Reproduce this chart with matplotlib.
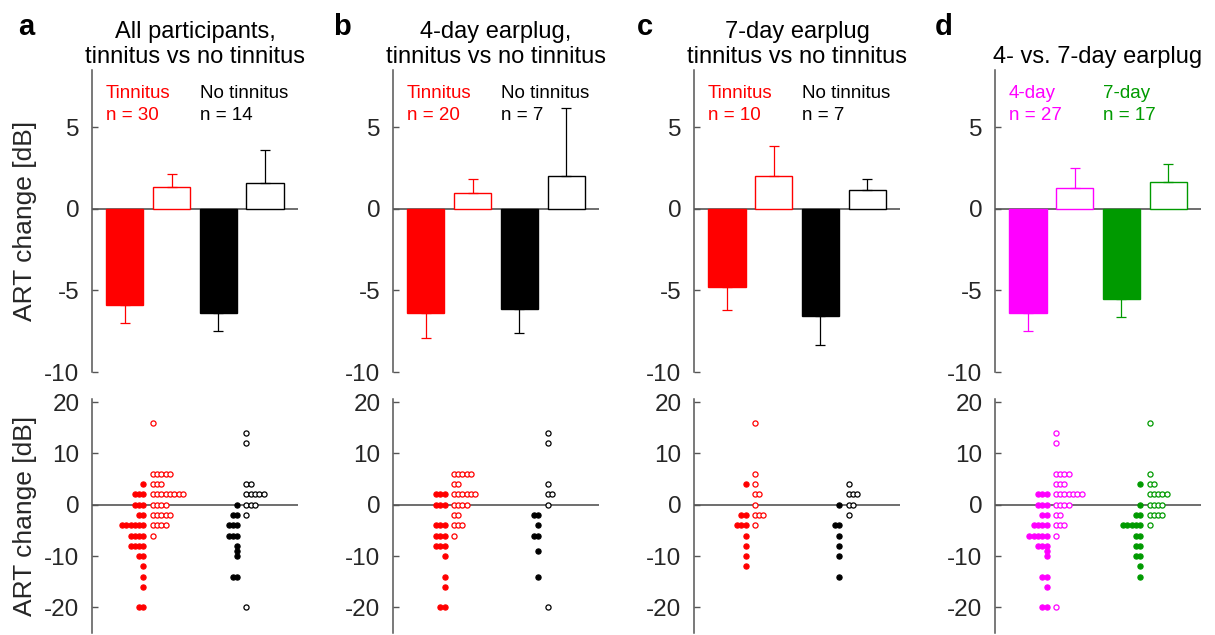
"""ART change after earplug: group bars (top) and individual values (bottom)."""

import matplotlib.pyplot as plt
import numpy as np

plt.rcParams["font.family"] = ["Liberation Sans", "DejaVu Sans"]
plt.rcParams["axes.unicode_minus"] = False

RED = "#ff0000"
BLACK = "#000000"
MAGENTA = "#ff00ff"
GREEN = "#009a00"

LETTERS = ["a", "b", "c", "d"]
TITLES = [
    "All participants,\ntinnitus vs no tinnitus",
    "4-day earplug,\ntinnitus vs no tinnitus",
    "7-day earplug\ntinnitus vs no tinnitus",
    "4- vs. 7-day earplug",
]
GROUP_NAMES = [
    ("Tinnitus", "No tinnitus"),
    ("Tinnitus", "No tinnitus"),
    ("Tinnitus", "No tinnitus"),
    ("4-day", "7-day"),
]
GROUP_N = [(30, 14), (20, 7), (10, 7), (27, 17)]
GROUP_COLORS = [(RED, BLACK), (RED, BLACK), (RED, BLACK), (MAGENTA, GREEN)]

# bar order per panel: group1 filled, group1 open, group2 filled, group2 open
BAR_MEAN = [
    [-5.9, 1.33, -6.36, 1.6],
    [-6.4, 0.98, -6.13, 2.0],
    [-4.8, 2.0, -6.56, 1.16],
    [-6.38, 1.29, -5.52, 1.66],
]
BAR_SEM = [
    [1.08, 0.82, 1.12, 2.0],
    [1.5, 0.86, 1.47, 4.2],
    [1.4, 1.87, 1.78, 0.68],
    [1.12, 1.21, 1.11, 1.1],
]

# individual values (dB)
A_G1_FILLED = [4, 2, 2, 2, 0, 0, 0, -2, -2, -4, -4, -4, -4, -4, -4, -6, -6, -6, -6,
               -8, -8, -8, -8, -10, -10, -12, -14, -16, -20, -20]
A_G1_OPEN = [16, 6, 6, 6, 6, 6, 4, 4, 4, 2, 2, 2, 2, 2, 2, 2, 2, 0, 0, 0, 0,
             -2, -2, -2, -2, -2, -4, -4, -4, -4, -6]
A_G2_FILLED = [0, -2, -2, -4, -4, -4, -6, -6, -6, -8, -9, -10, -14, -14]
A_G2_OPEN = [14, 12, 4, 4, 2, 2, 2, 2, 2, 0, 0, 0, -2, -20]

B_G1_FILLED = [2, 2, 2, 0, 0, 0, -4, -4, -4, -6, -6, -6, -8, -8, -8, -10, -14, -16,
               -20, -20]
B_G1_OPEN = [6, 6, 6, 6, 6, 4, 4, 2, 2, 2, 2, 2, 2, 0, 0, 0, 0, -2, -2, -4, -4, -4, -6]
B_G2_FILLED = [-2, -2, -4, -6, -6, -9, -14]
B_G2_OPEN = [14, 12, 4, 2, 2, 0, -20]

C_G1_FILLED = [4, -2, -2, -4, -4, -4, -6, -8, -10, -12]
C_G1_OPEN = [16, 6, 4, 2, 2, 0, -2, -2, -2, -4]
C_G2_FILLED = [0, -4, -4, -6, -8, -10, -14]
C_G2_OPEN = [4, 2, 2, 2, 0, 0, -2]

D_G1_FILLED = [2, 2, 2, 0, 0, 0, -2, -2, -4, -4, -4, -4, -6, -6, -6, -6, -6,
               -8, -8, -8, -9, -10, -14, -14, -16, -20, -20]
D_G1_OPEN = [14, 12, 6, 6, 6, 6, 4, 4, 4, 2, 2, 2, 2, 2, 2, 2, 0, 0, 0, 0,
             -2, -2, -4, -4, -4, -6, -20]
D_G2_FILLED = [4, 0, -2, -2, -4, -4, -4, -4, -4, -6, -6, -8, -8, -10, -10, -12, -14]
D_G2_OPEN = [16, 6, 4, 4, 2, 2, 2, 2, 2, 0, 0, 0, 0, -2, -2, -2, -2, -4]

DOTS = [
    (A_G1_FILLED, A_G1_OPEN, A_G2_FILLED, A_G2_OPEN),
    (B_G1_FILLED, B_G1_OPEN, B_G2_FILLED, B_G2_OPEN),
    (C_G1_FILLED, C_G1_OPEN, C_G2_FILLED, C_G2_OPEN),
    (D_G1_FILLED, D_G1_OPEN, D_G2_FILLED, D_G2_OPEN),
]

W, H = 1215, 635
AX_GRAY = "#555555"
TXT = "#262626"


def style(ax, ylim, ticks):
    ax.set_xlim(0.3, 4.7)
    ax.set_ylim(*ylim)
    ax.set_yticks(ticks)
    ax.set_xticks([])
    for side in ("top", "right", "bottom"):
        ax.spines[side].set_visible(False)
    ax.spines["left"].set_color(AX_GRAY)
    ax.spines["left"].set_linewidth(1.1)
    ax.tick_params(axis="y", direction="in", length=4, width=1, color=AX_GRAY,
                   labelsize=17.5, labelcolor=TXT, pad=9)
    ax.axhline(0, color=AX_GRAY, lw=1.2, zorder=1)


def swarm(ax, x0, step, vals, color, filled):
    vals = np.asarray(vals, dtype=float)
    for v in np.unique(vals):
        k = int(np.sum(vals == v))
        xs = x0 + step * np.arange(k)
        ax.plot(xs, np.full(k, v), "o", ms=3.7, mew=0.9, mec=color,
                mfc=color if filled else "white", zorder=3, clip_on=False)


fig = plt.figure(figsize=(W / 100, H / 100), dpi=100)

for i in range(4):
    left = (92 + 301 * i) / W
    ax_top = fig.add_axes([left, 1 - 372 / H, 206 / W, 302 / H])
    ax_bot = fig.add_axes([left, 1 - 633 / H, 206 / W, 234 / H])
    style(ax_top, (-10, 8.5), [-10, -5, 0, 5])
    style(ax_bot, (-25, 20.6), [-20, -10, 0, 10, 20])

    c1, c2 = GROUP_COLORS[i]
    colors = [c1, c1, c2, c2]
    for j in range(4):
        m, s = BAR_MEAN[i][j], BAR_SEM[i][j]
        filled = j % 2 == 0
        ax_top.bar(j + 1, m, width=0.8, color=colors[j] if filled else "white",
                   edgecolor=colors[j], linewidth=1, zorder=2)
        yerr = [[s], [0]] if m < 0 else [[0], [s]]
        ax_top.errorbar(j + 1, m, yerr=yerr, color=colors[j], lw=0.9,
                        capsize=3.5, capthick=0.9, zorder=2)

    for k, (name, n) in enumerate(zip(GROUP_NAMES[i], GROUP_N[i])):
        ax_top.text(0.6 + 2 * k, 7.6, f"{name}\nn = {n}", color=colors[2 * k],
                    fontsize=13.5, ha="left", va="top", linespacing=1.4)

    ax_top.set_title(TITLES[i], fontsize=17, pad=5, color="black")

    g1f, g1o, g2f, g2o = DOTS[i]
    swarm(ax_bot, 1.40, -0.092, g1f, c1, True)
    swarm(ax_bot, 1.60, 0.092, g1o, c1, False)
    swarm(ax_bot, 3.40, -0.092, g2f, c2, True)
    swarm(ax_bot, 3.60, 0.092, g2o, c2, False)

    letter_x = [26, 342, 645, 944][i]
    fig.text(letter_x / W, 1 - 35 / H, LETTERS[i], fontsize=21, fontweight="bold",
             ha="center", va="baseline")

for yc in (221, 516):
    fig.text(25 / W, 1 - yc / H, "ART change [dB]", rotation=90, fontsize=19,
             color=TXT, ha="center", va="center")

fig.savefig("out.png", dpi=100)
